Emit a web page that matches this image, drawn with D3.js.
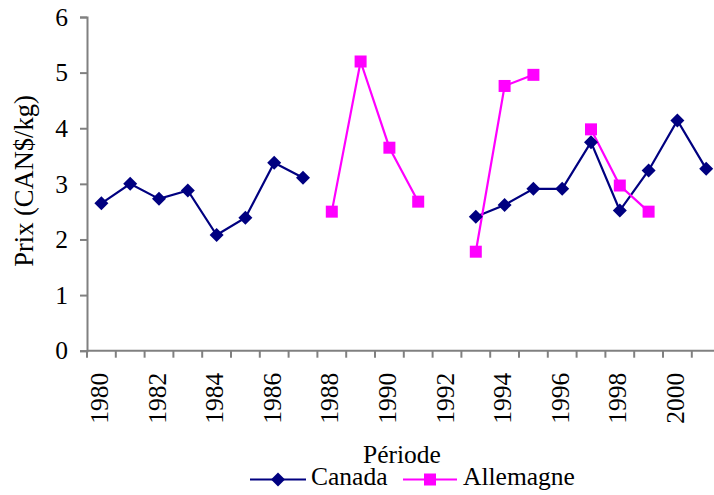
<!DOCTYPE html>
<html>
<head>
<meta charset="utf-8">
<script src="https://cdn.jsdelivr.net/npm/d3@7"></script>
<style>
  html, body { margin: 0; padding: 0; background: #fff; }
  svg { display: block; }
</style>
</head>
<body>
<svg id="chart" width="714" height="495"></svg>
<script>
// Years on the category axis
const years = d3.range(1980, 2002);
// Every other year is labelled
const yearLabels = years.filter(y => y % 2 === 0);
// Price per kg (CAN$), null where no figure exists
const canada = [2.65, 3.00, 2.73, 2.88, 2.08, 2.39, 3.38, 3.11,
                null, null, null, null, null,
                2.41, 2.62, 2.91, 2.91, 3.75, 2.52, 3.24, 4.14, 3.27];
const allemagne = [null, null, null, null, null, null, null, null,
                   2.50, 5.20, 3.65, 2.68, null,
                   1.78, 4.76, 4.96, null, 3.98, 2.97, 2.50, null, null];
const yTicks = [0, 1, 2, 3, 4, 5, 6];

const FONT = "'Times New Roman', 'Liberation Serif', serif";
const FS = 25.5;

const svg = d3.select("#chart");
const plotLeft = 87, plotTop = 17, plotBottom = 350.7;
const step = 28.8;

const x = d3.scaleBand().domain(years).range([plotLeft, plotLeft + years.length * step]).padding(0);
const y = d3.scaleLinear().domain([0, 6]).range([plotBottom, plotTop]);
const cx = yr => x(yr) + x.bandwidth() / 2;

const axisColor = "#808080";

// Y axis
const yAxis = svg.append("g").attr("transform", `translate(${plotLeft},0)`)
  .call(d3.axisLeft(y).tickValues(yTicks).tickSize(7).tickPadding(12).tickFormat(d3.format("d")));
yAxis.attr("font-family", null).attr("font-size", null);
yAxis.select(".domain").attr("stroke", axisColor).attr("stroke-width", 2);
yAxis.selectAll(".tick line").attr("stroke", axisColor).attr("stroke-width", 2);
yAxis.selectAll("text").attr("font-size", FS).attr("font-family", FONT).attr("fill", "#000");

// X axis: tick marks on category boundaries
const xg = svg.append("g").attr("transform", `translate(0,${plotBottom})`);
xg.append("line").attr("x1", plotLeft).attr("x2", 714).attr("y1", 0).attr("y2", 0)
  .attr("stroke", axisColor).attr("stroke-width", 2);
xg.selectAll("line.tk").data(years.concat([2002])).enter().append("line")
  .attr("class", "tk")
  .attr("x1", d => x(d) !== undefined ? x(d) : plotLeft + years.length * step)
  .attr("x2", d => x(d) !== undefined ? x(d) : plotLeft + years.length * step)
  .attr("y1", 0).attr("y2", 7)
  .attr("stroke", axisColor).attr("stroke-width", 2);
xg.selectAll("text.yl").data(yearLabels).enter().append("text")
  .attr("class", "yl")
  .attr("transform", d => `translate(${cx(d) + 6.5},${22}) rotate(-90)`)
  .attr("text-anchor", "end")
  .attr("font-family", FONT).attr("font-size", FS)
  .text(d => d);

// Axis titles
svg.append("text")
  .attr("transform", `translate(${33},${181}) rotate(-90)`)
  .attr("text-anchor", "middle")
  .attr("font-family", FONT).attr("font-size", 26.5)
  .text("Prix (CAN$/kg)");
svg.append("text")
  .attr("x", 402).attr("y", 463)
  .attr("text-anchor", "middle")
  .attr("font-family", FONT).attr("font-size", FS)
  .text("Période");

// Series
const series = [
  { name: "Canada", values: canada, color: "#000080" },
  { name: "Allemagne", values: allemagne, color: "#FF00FF" }
];

const line = d3.line()
  .defined(d => d.v !== null)
  .x(d => cx(d.year))
  .y(d => y(d.v));

const diamond = size => `M0,${-size}L${size},0L0,${size}L${-size},0Z`;
const square = size => `M${-size},${-size}H${size}V${size}H${-size}Z`;
const markerPath = (s) => s.name === "Canada" ? diamond(7) : square(6);

series.forEach(s => {
  const pts = years.map((yr, i) => ({ year: yr, v: s.values[i] }));
  svg.append("path").datum(pts)
    .attr("d", line)
    .attr("fill", "none")
    .attr("stroke", s.color)
    .attr("stroke-width", 2.2);
});
series.forEach(s => {
  const pts = years.map((yr, i) => ({ year: yr, v: s.values[i] })).filter(d => d.v !== null);
  svg.append("g").selectAll("path").data(pts).enter().append("path")
    .attr("transform", d => `translate(${cx(d.year)},${y(d.v)})`)
    .attr("d", markerPath(s))
    .attr("fill", s.color);
});

// Legend
const legend = svg.append("g");
const legendItems = [
  { s: series[0], x1: 250, x2: 306, tx: 311 },
  { s: series[1], x1: 403, x2: 457, tx: 463 }
];
const ly = 479.5;
legendItems.forEach(it => {
  legend.append("line").attr("x1", it.x1).attr("x2", it.x2).attr("y1", ly).attr("y2", ly)
    .attr("stroke", it.s.color).attr("stroke-width", 2.2);
  legend.append("path").attr("transform", `translate(${(it.x1 + it.x2) / 2},${ly})`)
    .attr("d", markerPath(it.s)).attr("fill", it.s.color);
  legend.append("text").attr("x", it.tx).attr("y", 485)
    .attr("font-family", FONT).attr("font-size", FS)
    .text(it.s.name);
});
</script>
</body>
</html>
